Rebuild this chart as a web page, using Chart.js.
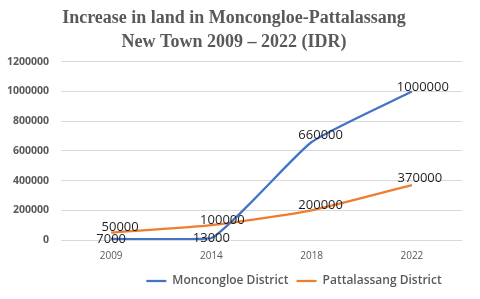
<!DOCTYPE html>
<html>
<head>
<meta charset="utf-8">
<script src="https://cdn.jsdelivr.net/npm/chart.js@4/dist/chart.umd.min.js"></script>
<style>
    html, body { margin: 0; padding: 0; background: #fff; }
    #wrap { width: 480px; height: 299px; }
</style>
</head>
<body>
<div id="wrap"><canvas id="landChart" width="480" height="299"></canvas></div>
<script>
const years = ['2009', '2014', '2018', '2022'];
const moncongloe = [7000, 13000, 660000, 1000000];
const pattalassang = [50000, 100000, 200000, 370000];
const yTicks = [0, 200000, 400000, 600000, 800000, 1000000, 1200000];

// label nudges (px) so the numbers sit like in the original
const labelShift = [
    [[0, 0], [0, 0], [9, -7], [11, -4]],
    [[9, -5], [11, -5], [9, -5], [8, -7]]
];

const pointLabels = {
    id: 'pointLabels',
    afterLayout(chart) {
        // legend in the original sits right of centre
        chart.legend.left += 60;
        chart.legend.right += 60;
    },
    afterDatasetsDraw(chart) {
        const ctx = chart.ctx;
        ctx.save();
        ctx.font = '500 13px "Open Sans"';
        ctx.fillStyle = '#1f1f1f';
        ctx.textAlign = 'center';
        ctx.textBaseline = 'middle';
        chart.data.datasets.forEach((ds, i) => {
            chart.getDatasetMeta(i).data.forEach((pt, j) => {
                const s = labelShift[i][j];
                ctx.fillText(String(ds.data[j]), pt.x + s[0], pt.y + s[1]);
            });
        });
        ctx.restore();
    }
};

new Chart(document.getElementById('landChart'), {
    type: 'line',
    data: {
        labels: years,
        datasets: [{
            label: 'Moncongloe District',
            data: moncongloe,
            borderColor: '#4472C4',
            backgroundColor: '#4472C4',
            borderWidth: 2.25,
            pointRadius: 0,
            tension: 0.15
        }, {
            label: 'Pattalassang District',
            data: pattalassang,
            borderColor: '#ED7D31',
            backgroundColor: '#ED7D31',
            borderWidth: 2.25,
            pointRadius: 0,
            tension: 0.2
        }]
    },
    options: {
        responsive: false,
        animation: false,
        layout: { padding: { left: 6, right: 18, top: 4, bottom: 2 } },
        plugins: {
            title: {
                display: true,
                text: ['Increase in land in Moncongloe-Pattalassang', 'New Town 2009 \u2013 2022 (IDR)'],
                color: '#595959',
                font: { family: '"Liberation Serif"', size: 18, weight: 'bold', lineHeight: 1.3 },
                padding: { top: 3, bottom: 8 }
            },
            legend: {
                position: 'bottom',
                labels: {
                    usePointStyle: true,
                    pointStyle: 'line',
                    pointStyleWidth: 20,
                    color: '#595959',
                    font: { family: '"Open Sans"', size: 12, weight: '600' },
                    padding: 8
                }
            },
            tooltip: { enabled: false }
        },
        scales: {
            x: {
                offset: true,
                grid: { display: false },
                border: { display: false },
                afterFit: axis => { axis.height += 3; },
                ticks: { color: '#595959', font: { family: '"Open Sans"', size: 10 }, padding: 2 }
            },
            y: {
                min: 0,
                max: 1200000,
                afterBuildTicks: axis => { axis.ticks = yTicks.map(v => ({ value: v })); },
                afterFit: axis => { axis.width = 55; },
                grid: { color: '#d9d9d9', drawTicks: false, lineWidth: 1 },
                border: { display: false },
                ticks: {
                    color: '#595959',
                    font: { family: '"Open Sans"', size: 10.5, weight: 'bold' },
                    padding: 12,
                    callback: v => String(v)
                }
            }
        }
    },
    plugins: [pointLabels]
});
</script>
</body>
</html>
